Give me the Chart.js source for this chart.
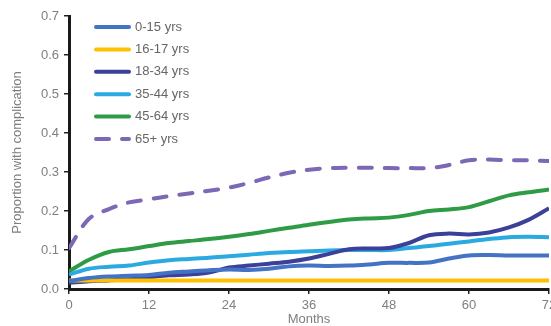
<!DOCTYPE html>
<html>
<head>
<meta charset="utf-8">
<script src="https://cdn.jsdelivr.net/npm/chart.js@4.4.1/dist/chart.umd.min.js"></script>
<style>
  html, body { margin:0; padding:0; background:#fff; }
  #wrap { width:551px; height:326px; position:relative; }
</style>
</head>
<body>
<div id="wrap"><canvas id="grafico"></canvas></div>
<script>
const months = [0,3,6,9,12,15,18,21,24,27,30,33,36,39,42,45,48,51,54,57,60,63,66,69,72];

const ageGroups = ["0-15 yrs","16-17 yrs","18-34 yrs","35-44 yrs","45-64 yrs","65+ yrs"];
const colors = ["#4472C4","#FFC000","#3B4199","#2BAAE2","#2E9B45","#7C68B4"];

const age0_15  = [0.020,0.028,0.032,0.034,0.036,0.042,0.045,0.048,0.050,0.049,0.052,0.058,0.060,0.059,0.060,0.063,0.067,0.067,0.068,0.078,0.086,0.087,0.086,0.086,0.086];
const age16_17 = [0.022,0.022,0.022,0.022,0.022,0.022,0.022,0.022,0.022,0.022,0.022,0.022,0.022,0.022,0.022,0.022,0.022,0.022,0.022,0.022,0.022,0.022,0.022,0.022,0.022];
const age18_34 = [0.016,0.020,0.022,0.025,0.030,0.035,0.037,0.042,0.055,0.060,0.065,0.070,0.078,0.090,0.102,0.104,0.105,0.118,0.138,0.142,0.140,0.145,0.158,0.178,0.207];
const age35_44 = [0.037,0.052,0.057,0.060,0.068,0.074,0.077,0.080,0.084,0.088,0.092,0.095,0.097,0.099,0.100,0.100,0.100,0.105,0.110,0.116,0.122,0.128,0.133,0.134,0.133];
const age45_64 = [0.045,0.075,0.095,0.102,0.110,0.118,0.123,0.128,0.134,0.141,0.149,0.157,0.165,0.172,0.178,0.181,0.183,0.190,0.200,0.204,0.210,0.225,0.240,0.248,0.255];
const age65    = [0.105,0.180,0.205,0.222,0.230,0.238,0.245,0.252,0.260,0.272,0.286,0.298,0.306,0.310,0.311,0.311,0.310,0.310,0.310,0.318,0.330,0.332,0.330,0.330,0.328];

const series = [age0_15, age16_17, age18_34, age35_44, age45_64, age65];

const yTicks = [0,0.1,0.2,0.3,0.4,0.5,0.6,0.7];
const xTicks = [0,12,24,36,48,60,72];

const fonte = "'Liberation Sans', Arial, sans-serif";
const cinza = "#7f7f7f";

const datasets = series.map((vals, i) => ({
  label: ageGroups[i],
  data: vals.map((v, k) => ({ x: months[k], y: v })),
  borderColor: colors[i],
  backgroundColor: colors[i],
  borderWidth: 4,
  borderDash: i === 5 ? [13, 13] : [],
  borderCapStyle: i === 5 ? "round" : "butt",
  pointRadius: 0,
  tension: 0.35,
  fill: false
}));

// legenda desenhada dentro da area do grafico
const legendaInterna = {
  id: "legendaInterna",
  afterDraw(chart){
    const ctx = chart.ctx;
    const area = chart.chartArea;
    const x0 = area.left + 25, x1 = area.left + 62;
    ctx.save();
    ctx.font = "13px " + fonte;
    ctx.textBaseline = "middle";
    ctx.textAlign = "left";
    chart.data.datasets.forEach((ds, i) => {
      const y = area.top + 11 + i * 22.4;
      ctx.beginPath();
      ctx.strokeStyle = ds.borderColor;
      ctx.lineWidth = 4;
      ctx.lineCap = "round";
      ctx.setLineDash(ds.borderDash.length ? ds.borderDash : []);
      ctx.moveTo(x0 + 2, y);
      ctx.lineTo(x1 - 2, y);
      ctx.stroke();
      ctx.setLineDash([]);
      ctx.fillStyle = "#666";
      ctx.fillText(ds.label, x1 + 4, y);
    });
    ctx.restore();
  }
};

new Chart(document.getElementById("grafico").getContext("2d"), {
  type: "line",
  data: { datasets },
  options: {
    responsive: true,
    maintainAspectRatio: false,
    animation: false,
    layout: { padding: { left: 0, right: 2, top: 16, bottom: 0 } },
    plugins: { legend: { display: false }, tooltip: { enabled: false } },
    scales: {
      x: {
        type: "linear",
        min: 0, max: 72,
        afterBuildTicks: s => { s.ticks = xTicks.map(v => ({ value: v })); },
        afterFit: s => { s.paddingRight = 0; s.paddingLeft = 0; s.height = 37; },
        ticks: { color: cinza, font: { family: fonte, size: 13 }, padding: 4, maxRotation: 0 },
        grid: { drawOnChartArea: false, drawTicks: true, tickLength: 5, color: "#222", lineWidth: 1.5 },
        border: { display: true, color: "#1a1a1a", width: 3 },
        title: { display: true, text: "Months", color: cinza, font: { family: fonte, size: 13, lineHeight: 1 }, padding: { top: 0, bottom: 0 } }
      },
      y: {
        min: 0, max: 0.7,
        afterBuildTicks: s => { s.ticks = yTicks.map(v => ({ value: v })); },
        afterFit: s => { s.width = 69; s.paddingTop = 0; },
        ticks: { color: cinza, font: { family: fonte, size: 13 }, padding: 5, callback: v => v.toFixed(1) },
        grid: { drawOnChartArea: false, drawTicks: true, tickLength: 5, color: "#222", lineWidth: 1.5 },
        border: { display: true, color: "#1a1a1a", width: 3 },
        title: { display: true, text: "Proportion with complication", color: cinza, font: { family: fonte, size: 13, lineHeight: 1 }, padding: { top: 11, bottom: 0 } }
      }
    }
  },
  plugins: [legendaInterna]
});
</script>
</body>
</html>
